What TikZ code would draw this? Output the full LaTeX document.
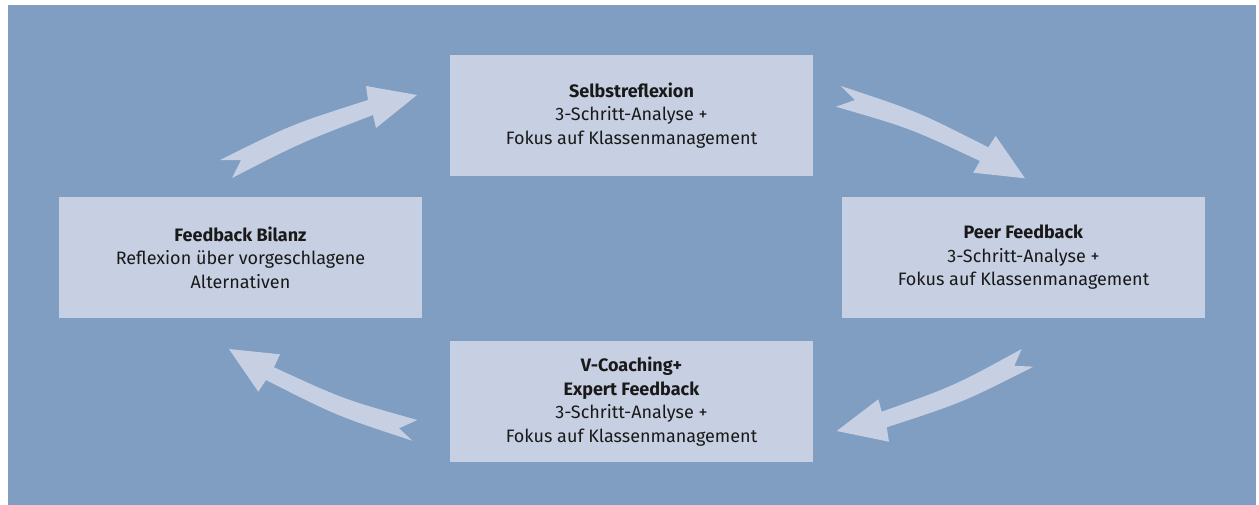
\documentclass[tikz,border=0pt]{standalone}
\usepackage{fontspec}
\setmainfont{Fira Sans}
\definecolor{panelblue}{RGB}{128,157,194}
\definecolor{boxfill}{RGB}{199,208,227}
\tikzset{
	stage/.style={fill=boxfill, minimum width=363pt, minimum height=121pt,
		inner sep=0pt, align=center, text=black!90,
		font=\fontsize{18}{23.5}\selectfont},
	swoosh/.style={fill=boxfill}
}
\begin{document}
\begin{tikzpicture}[x=1pt,y=-1pt]
		\useasboundingbox (0,0) rectangle (1259,504);
		\fill[white] (0,0) rectangle (1259,504);
		\fill[panelblue] (8,5) rectangle (1256,506);
		% Stages
		\node[stage] (selbst) at (631.5,115.5) {\textbf{Selbstreflexion}\\3-Schritt-Analyse +\\Fokus auf Klassenmanagement};
		\node[stage] (peer) at (1023.5,257.5) {\textbf{Peer Feedback}\\3-Schritt-Analyse +\\Fokus auf Klassenmanagement};
		\node[stage] (coach) at (631.5,401.5) {\textbf{V-Coaching+}\\\textbf{Expert Feedback}\\3-Schritt-Analyse +\\Fokus auf Klassenmanagement};
		\node[stage] (bilanz) at (240.5,257.5) {\textbf{Feedback Bilanz}\\Reflexion über vorgeschlagene\\Alternativen};
		% Bilanz to Selbstreflexion
		\fill[swoosh] (220,160) -- (241,160) -- (232,178) .. controls (300,143) .. (373,115)
			-- (376,128) -- (417,95) -- (366,86) -- (368,100) .. controls (291.7,124.4) .. (220,160) -- cycle;
		% Selbstreflexion to Peer
		\fill[swoosh] (840.7,86) -- (855,100) -- (836,106.7) .. controls (910.3,128.3) .. (980,161)
			-- (973.3,172.7) -- (1025,178.3) -- (995.7,136) -- (988.3,147.3) .. controls (916.8,111.1) .. (840.7,86) -- cycle;
		% Peer to Coaching
		\fill[swoosh] (1021.7,349) -- (1014.3,365.7) -- (1033.3,366.7) .. controls (962.5,402.5) .. (886.7,427.3)
			-- (889,441.7) -- (836.7,431) -- (878.3,399.3) -- (881.7,411.7) .. controls (954.2,385.9) .. (1021.7,349) -- cycle;
		% Coaching to Bilanz
		\fill[swoosh] (417.3,420) -- (399,428.3) -- (412.3,440.7) .. controls (337.1,416) .. (266,380)
			-- (258.3,391.7) -- (229,349) -- (280,354.3) -- (274,367.3) .. controls (343.6,399.3) .. (417.3,420) -- cycle;
	\end{tikzpicture}
\end{document}
